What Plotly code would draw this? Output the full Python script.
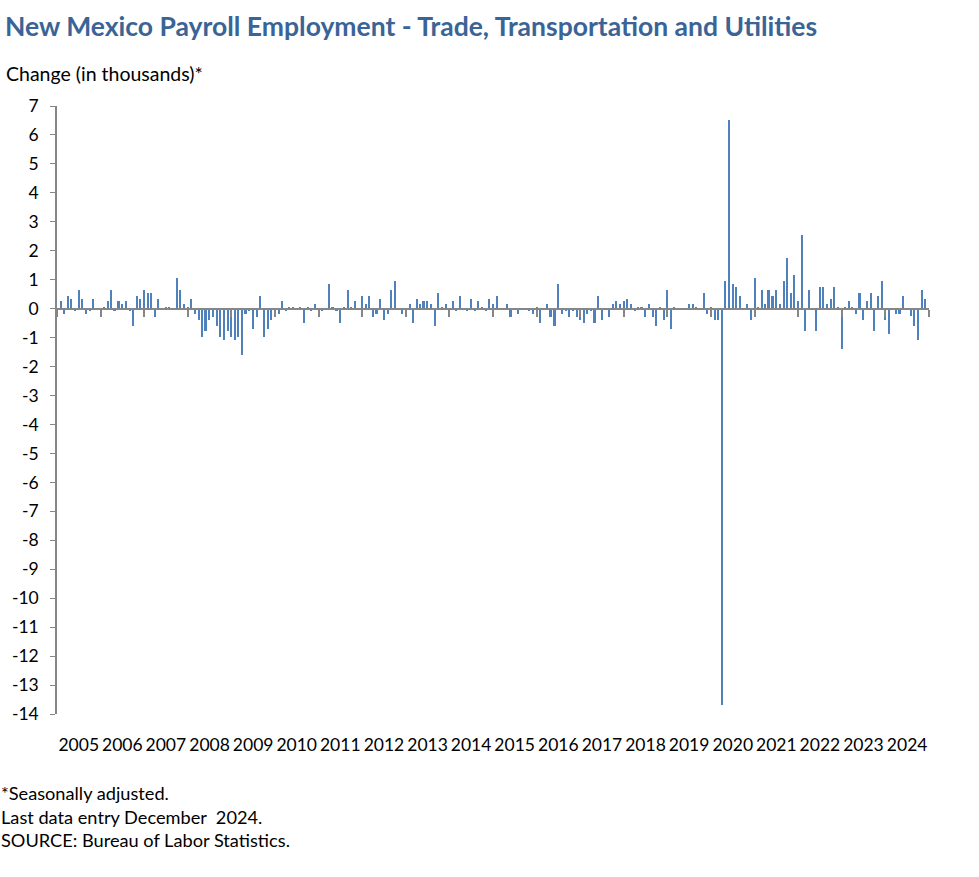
import pandas as pd
import plotly.graph_objects as go

# Monthly over-the-month change, thousands (seasonally adjusted), Feb 2005 .. Dec 2024
chg_2005 = [0.28, -0.17, 0.45, 0.35, -0.09, 0.66, 0.35, -0.17, -0.09, 0.35, 0.02]
chg_2006 = [-0.05, 0.07, 0.28, 0.66, -0.09, 0.28, 0.17, 0.28, -0.09, -0.6, 0.45, 0.35]
chg_2007 = [0.66, 0.55, 0.55, -0.29, 0.35, 0.02, 0.07, 0.07, 0.02, 1.07, 0.66, 0.17]
chg_2008 = [0.05, 0.35, -0.17, -0.39, -0.98, -0.76, -0.39, -0.29, -0.6, -0.98, -1.08, -0.76]
chg_2009 = [-0.98, -1.08, -0.98, -1.6, -0.17, -0.09, -0.7, -0.29, 0.45, -0.98, -0.7, -0.39]
chg_2010 = [-0.1, -0.17, 0.28, -0.09, 0.07, 0.07, 0.02, 0.05, -0.5, 0.07, -0.09, 0.17]
chg_2011 = [-0.1, -0.09, 0.0, 0.86, 0.07, -0.09, -0.5, 0.07, 0.66, 0.07, 0.28, 0.02]
chg_2012 = [0.45, 0.17, 0.45, -0.29, -0.17, 0.35, -0.39, -0.17, 0.66, 0.97, 0.02, -0.17]
chg_2013 = [-0.1, 0.17, -0.5, 0.35, 0.17, 0.28, 0.28, 0.17, -0.6, 0.55, 0.07, 0.17]
chg_2014 = [-0.1, 0.28, -0.09, 0.45, 0.02, -0.09, 0.35, -0.09, 0.28, 0.07, -0.09, 0.35]
chg_2015 = [0.17, 0.45, 0.02, 0.02, 0.17, -0.29, 0.02, -0.17, 0.02, 0.02, -0.09, -0.17]
chg_2016 = [0.07, -0.5, 0.02, 0.17, -0.29, -0.6, 0.86, -0.17, -0.09, -0.29, -0.09, -0.29]
chg_2017 = [-0.39, -0.5, -0.17, -0.09, -0.5, 0.45, -0.39, 0.02, -0.29, 0.17, 0.28, 0.17]
chg_2018 = [0.28, 0.35, 0.17, -0.09, 0.07, 0.07, -0.29, 0.17, -0.29, -0.6, 0.07, -0.39]
chg_2019 = [0.66, -0.7, 0.07, 0.02, 0.02, -0.06, 0.16, 0.16, 0.07, -0.06, 0.55, -0.17]
chg_2020 = [0.05, -0.38, -0.38, -13.7, 0.97, 6.5, 0.85, 0.76, 0.45, 0.02, 0.16, -0.38]
chg_2021 = [1.06, 0.07, 0.66, 0.16, 0.66, 0.45, 0.66, 0.16, 0.97, 1.75, 0.55, 1.17]
chg_2022 = [0.28, 2.56, -0.76, 0.66, 0.02, -0.76, 0.75, 0.75, 0.17, 0.35, 0.75, 0.06]
chg_2023 = [-1.38, 0.06, 0.28, 0.06, -0.17, 0.54, -0.38, 0.28, 0.54, -0.76, 0.44, 0.97]
chg_2024 = [-0.38, -0.86, 0.02, -0.17, -0.17, 0.44, 0.02, -0.27, -0.59, -1.07, 0.65, 0.35]

change = (chg_2005 + chg_2006 + chg_2007 + chg_2008 + chg_2009 + chg_2010 + chg_2011
          + chg_2012 + chg_2013 + chg_2014 + chg_2015 + chg_2016 + chg_2017 + chg_2018
          + chg_2019 + chg_2020 + chg_2021 + chg_2022 + chg_2023 + chg_2024)
months = pd.date_range("2005-02-01", "2024-12-01", freq="MS")
years = list(range(2005, 2025))
y_ticks = list(range(-14, 8))

year_starts = [pd.Timestamp(f"{y}-01-01") for y in years + [2025]]
year_mids = [pd.Timestamp(f"{y}-07-02") for y in years]
x_range = [year_starts[0], year_starts[-1]]

FONT = "Lato"
AXIS_GREY = "#868686"
BAR_BLUE = "#4F81BD"
MONTH_MS = 30.44 * 24 * 3600 * 1000

fig = go.Figure()
fig.add_trace(go.Bar(
    x=months, y=change,
    width=0.55 * MONTH_MS,
    marker=dict(color=BAR_BLUE, line=dict(width=0)),
    hovertemplate="%{x|%b %Y}: %{y:.1f}<extra></extra>",
    showlegend=False,
))
# invisible copy so the zero-line axis (x2) gets drawn
fig.add_trace(go.Scatter(x=months, y=change, xaxis="x2", mode="none",
                         hoverinfo="skip", showlegend=False))

y_min, y_max = y_ticks[0], y_ticks[-1]

fig.update_layout(
    width=979, height=877,
    margin=dict(l=57, r=50, t=106, b=163),
    paper_bgcolor="white", plot_bgcolor="white",
    font=dict(family=FONT, size=17, color="black"),
    title=dict(
        text="<b>New Mexico Payroll Employment - Trade, Transportation and Utilities</b>",
        x=5 / 979, xanchor="left", y=0.970, yanchor="middle", yref="container",
        font=dict(family=FONT, size=26.5, color="#3A6496"),
    ),
    xaxis=dict(
        type="date", range=x_range, automargin=False,
        tickvals=year_mids, ticktext=[str(y) for y in years],
        ticks="", showline=False, showgrid=False, zeroline=False,
        tickfont=dict(size=17.5), ticklabelstandoff=18,
    ),
    xaxis2=dict(
        type="date", range=x_range, overlaying="x", anchor="free",
        position=(0 - y_min) / (y_max - y_min),
        showline=True, linecolor=AXIS_GREY, linewidth=2,
        ticks="outside", tickvals=year_starts, ticklen=7, tickwidth=2,
        tickcolor=AXIS_GREY, showticklabels=False, showgrid=False, zeroline=False,
    ),
    yaxis=dict(
        range=[y_min, y_max], automargin=False,
        tickvals=y_ticks, ticktext=[str(v) for v in y_ticks],
        showline=True, linecolor=AXIS_GREY, linewidth=1.5,
        ticks="outside", ticklen=5, tickcolor=AXIS_GREY,
        showgrid=False, zeroline=False,
        tickfont=dict(size=17.5), ticklabelstandoff=8,
    ),
    bargap=0,
)

plot_w = 979 - 57 - 50
plot_h = 877 - 106 - 163


def px_x(px):
    return (px - 57) / plot_w


def px_y(py):
    return (877 - 163 - py) / plot_h


fig.add_annotation(text="Change (in thousands)*", xref="paper", yref="paper",
                   x=px_x(4), y=px_y(73), xanchor="left", yanchor="middle",
                   showarrow=False, font=dict(size=19.5))
notes = ["*Seasonally adjusted.",
         "Last data entry December\u00a0 2024.",
         "SOURCE: Bureau of Labor Statistics."]
for note, py in zip(notes, [793, 817, 840]):
    fig.add_annotation(text=note, xref="paper", yref="paper",
                       x=px_x(-1), y=px_y(py), xanchor="left", yanchor="middle",
                       showarrow=False, font=dict(size=18.2))

# page has a default 8px body margin; drop it so the figure sits at the window origin
fig.write_html("out.html", config={"displayModeBar": False},
               post_script="document.body.style.margin='0';")
